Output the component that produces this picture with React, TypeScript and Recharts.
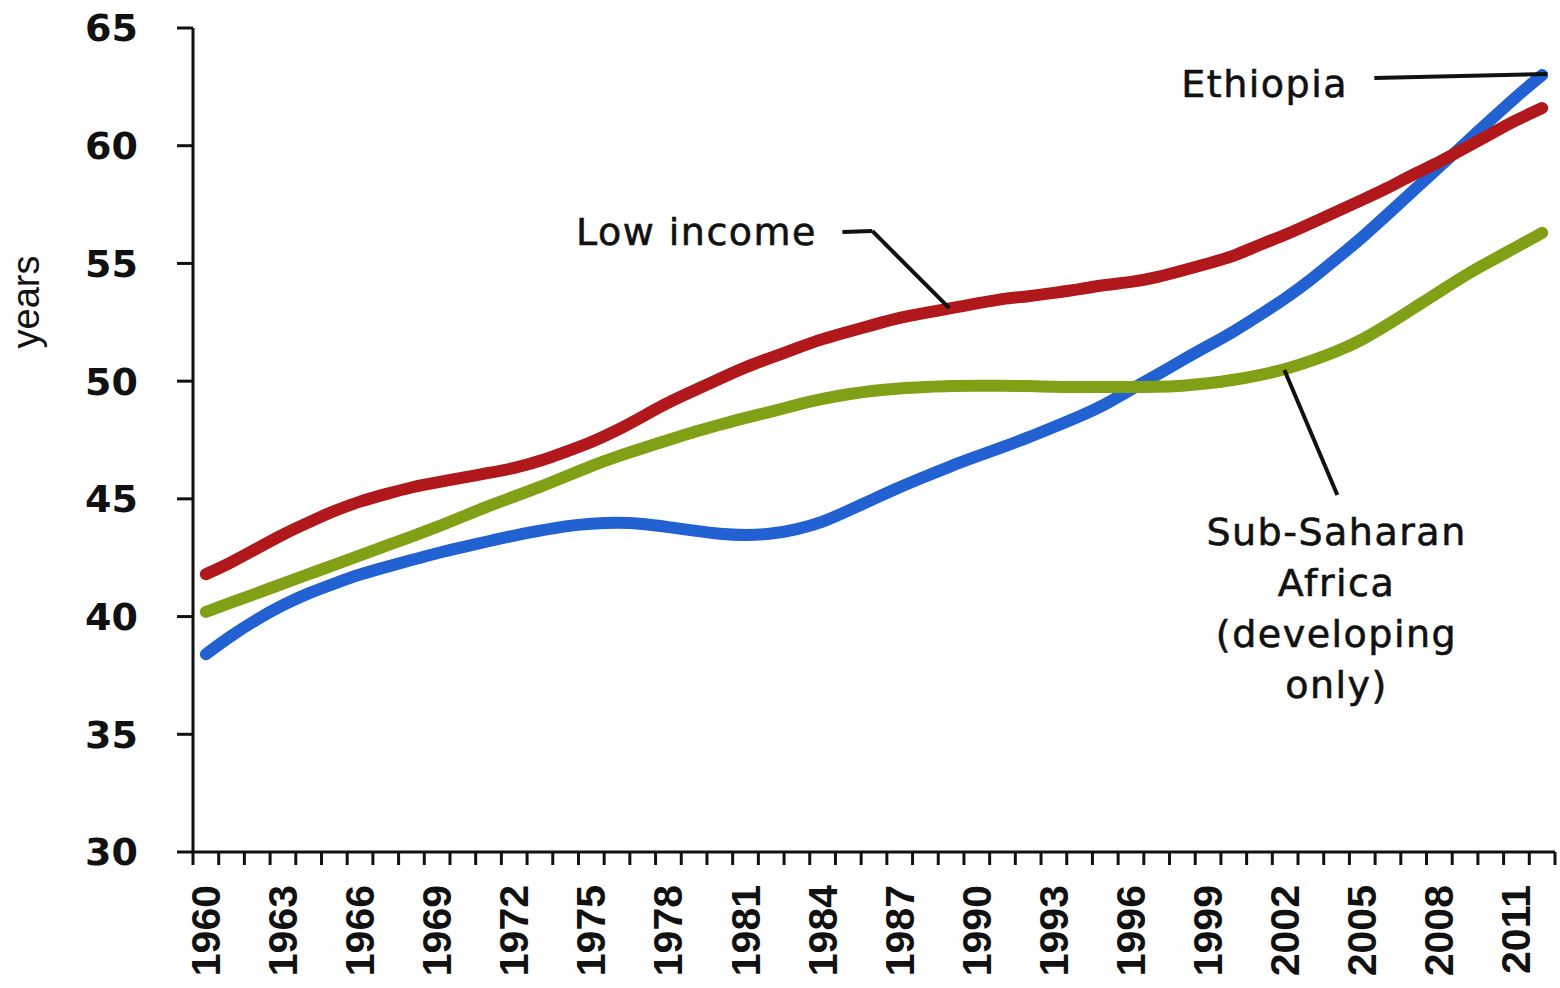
import React from 'react';
import { LineChart, Line, XAxis, YAxis, ReferenceLine, ReferenceDot } from 'recharts';

// years on the x axis
const years = [
  1960, 1961, 1962, 1963, 1964, 1965, 1966, 1967, 1968, 1969,
  1970, 1971, 1972, 1973, 1974, 1975, 1976, 1977, 1978, 1979,
  1980, 1981, 1982, 1983, 1984, 1985, 1986, 1987, 1988, 1989,
  1990, 1991, 1992, 1993, 1994, 1995, 1996, 1997, 1998, 1999,
  2000, 2001, 2002, 2003, 2004, 2005, 2006, 2007, 2008, 2009,
  2010, 2011, 2012,
];

const labelYears = [1960, 1963, 1966, 1969, 1972, 1975, 1978, 1981, 1984, 1987, 1990, 1993, 1996, 1999, 2002, 2005, 2008, 2011];
const yTicks = [30, 35, 40, 45, 50, 55, 60, 65];

// life expectancy, years
const ethiopia = [
  38.4, 39.2, 39.9, 40.5, 41.0, 41.4, 41.8, 42.1, 42.4, 42.7,
  42.95, 43.2, 43.45, 43.65, 43.85, 43.95, 44.0, 43.95, 43.8, 43.65,
  43.5, 43.45, 43.5, 43.7, 44.0, 44.5, 45.0, 45.5, 45.95, 46.4,
  46.8, 47.2, 47.6, 48.05, 48.5, 49.0, 49.65, 50.25, 50.9, 51.5,
  52.1, 52.8, 53.5, 54.3, 55.2, 56.1, 57.1, 58.1, 59.1, 60.1,
  61.1, 62.1, 63.0,
];

const lowIncome = [
  41.8, 42.3, 42.9, 43.5, 44.0, 44.5, 44.9, 45.2, 45.5, 45.7,
  45.9, 46.1, 46.3, 46.6, 47.0, 47.4, 47.9, 48.5, 49.1, 49.6,
  50.1, 50.6, 51.0, 51.4, 51.8, 52.1, 52.4, 52.7, 52.9, 53.1,
  53.3, 53.5, 53.6, 53.75, 53.9, 54.1, 54.2, 54.4, 54.7, 55.0,
  55.3, 55.8, 56.2, 56.7, 57.2, 57.7, 58.2, 58.8, 59.3, 59.9,
  60.5, 61.1, 61.6,
];

const subSaharan = [
  40.2, 40.6, 41.0, 41.4, 41.8, 42.2, 42.6, 43.0, 43.4, 43.8,
  44.25, 44.7, 45.1, 45.5, 45.95, 46.4, 46.8, 47.15, 47.5, 47.85,
  48.15, 48.45, 48.7, 49.0, 49.25, 49.45, 49.6, 49.7, 49.75, 49.8,
  49.8, 49.8, 49.8, 49.75, 49.75, 49.75, 49.75, 49.75, 49.8, 49.9,
  50.05, 50.25, 50.5, 50.85, 51.25, 51.75, 52.4, 53.1, 53.8, 54.5,
  55.1, 55.7, 56.3,
];

const chartData = years.map((year, i) => ({
  year,
  ethiopia: ethiopia[i],
  lowIncome: lowIncome[i],
  subSaharan: subSaharan[i],
}));

// tick marks sit between the years, labels on every third year
const tickMarks = [...years.map(y => y - 0.5), years[years.length - 1] + 0.5];
const xTicks = [...tickMarks, ...labelYears].sort((a, b) => a - b);

const INK = '#111';
const ANNOT_FONT = { fontFamily: '"DejaVu Sans", sans-serif', fontSize: 38, letterSpacing: 1.5, fill: INK, stroke: INK, strokeWidth: 0.6 };

const XTick = (props: any) => {
  const { x, y, payload } = props;
  const v = payload.value;
  if (!Number.isInteger(v)) {
    return <line x1={x} x2={x} y1={y} y2={y + 13} stroke={INK} strokeWidth={3} />;
  }
  if (!labelYears.includes(v)) return null;
  return (
    <text
      x={x}
      y={y + 33}
      transform={`rotate(-90 ${x} ${y + 33})`}
      textAnchor="end"
      dominantBaseline="central"
      fontFamily='"Liberation Sans", Arial, sans-serif'
      fontWeight={700}
      fontSize={41}
      fill={INK}
    >
      {v}
    </text>
  );
};

const YearsLabel = (props: any) => {
  const vb = props.viewBox || { x: 0, y: 0 };
  const x = vb.x + 26;
  const y = vb.y + 274;
  return (
    <text
      x={x}
      y={y}
      transform={`rotate(-90 ${x} ${y})`}
      textAnchor="middle"
      dominantBaseline="central"
      fontFamily='"Liberation Sans", Arial, sans-serif'
      fontSize={38}
      fill={INK}
    >
      years
    </text>
  );
};

const textShape = (lines: string[], anchor: 'start' | 'middle' | 'end') => (p: any) => (
  <text x={p.cx} y={p.cy} textAnchor={anchor} {...ANNOT_FONT}>
    {lines.map((l, i) => (
      <tspan key={l} x={p.cx} dy={i === 0 ? 0 : 51}>{l}</tspan>
    ))}
  </text>
);

export default function App() {
  return (
    <div style={{ position: 'absolute', left: 0, top: 0, width: 1560, height: 988, background: '#fff' }}>
      <LineChart width={1560} height={988} data={chartData} margin={{ top: 28, right: 5, bottom: 0, left: 0 }}>
        <XAxis
          dataKey="year"
          type="number"
          domain={[1959.5, 2012.5]}
          ticks={xTicks}
          interval={0}
          height={136}
          tickSize={0}
          tickMargin={0}
          tickLine={false}
          axisLine={{ stroke: INK, strokeWidth: 3 }}
          tick={<XTick />}
        />
        <YAxis
          type="number"
          domain={[30, 65]}
          ticks={yTicks}
          interval={0}
          width={193}
          tickSize={16}
          tickMargin={39}
          axisLine={{ stroke: INK, strokeWidth: 3 }}
          tickLine={{ stroke: INK, strokeWidth: 3 }}
          tick={{ fill: INK, fontSize: 38, fontFamily: '"DejaVu Sans", sans-serif', fontWeight: 700 }}
          label={<YearsLabel />}
        />

        <Line type="basis" dataKey="ethiopia" stroke="#2161d1" strokeWidth={12} strokeLinecap="round" dot={false} isAnimationActive={false} />
        <Line type="basis" dataKey="subSaharan" stroke="#82a016" strokeWidth={12} strokeLinecap="round" dot={false} isAnimationActive={false} />
        <Line type="basis" dataKey="lowIncome" stroke="#b0181c" strokeWidth={12} strokeLinecap="round" dot={false} isAnimationActive={false} />

        {/* leader lines */}
        <ReferenceLine segment={[{ x: 2005.47, y: 62.88 }, { x: 2012.2, y: 63.05 }]} stroke={INK} strokeWidth={4} ifOverflow="visible" />
        <ReferenceLine segment={[{ x: 1984.77, y: 56.33 }, { x: 1985.93, y: 56.38 }]} stroke={INK} strokeWidth={4} ifOverflow="visible" />
        <ReferenceLine segment={[{ x: 1985.93, y: 56.38 }, { x: 1988.93, y: 53.1 }]} stroke={INK} strokeWidth={4} ifOverflow="visible" />
        <ReferenceLine segment={[{ x: 2001.97, y: 50.47 }, { x: 2004.03, y: 45.16 }]} stroke={INK} strokeWidth={4} ifOverflow="visible" />

        {/* annotation texts */}
        <ReferenceDot x={2001.2} y={62.07} r={1} ifOverflow="visible" shape={textShape(['Ethiopia'], 'middle')} />
        <ReferenceDot x={1979.09} y={55.78} r={1} ifOverflow="visible" shape={textShape(['Low income'], 'middle')} />
        <ReferenceDot
          x={2004.0}
          y={43.04}
          r={1}
          ifOverflow="visible"
          shape={textShape(['Sub-Saharan', 'Africa', '(developing', 'only)'], 'middle')}
        />
      </LineChart>
    </div>
  );
}
